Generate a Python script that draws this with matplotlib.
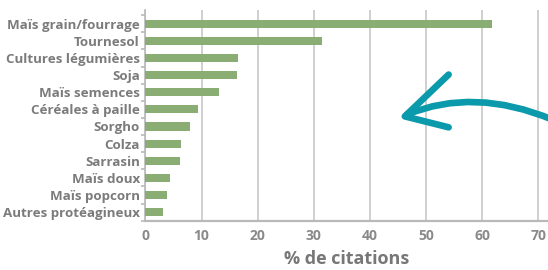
import matplotlib.pyplot as plt
from matplotlib.path import Path
from matplotlib.patches import PathPatch

categories = ['Maïs grain/fourrage', 'Tournesol', 'Cultures légumières', 'Soja',
              'Maïs semences', 'Céréales à paille', 'Sorgho', 'Colza', 'Sarrasin',
              'Maïs doux', 'Maïs popcorn', 'Autres protéagineux']
values = [61.7, 31.4, 16.5, 16.3, 13.1, 9.4, 7.9, 6.3, 6.1, 4.3, 3.8, 3.1]
xticks = [0, 10, 20, 30, 40, 50, 60, 70]

plt.rcParams['font.family'] = ['Open Sans', 'DejaVu Sans']

fig = plt.figure(figsize=(5.48, 2.70), dpi=100)
ax = fig.add_axes([0.2655, 0.1826, 0.7345, 0.7804])

pos = list(range(len(categories)))
ax.barh(pos, values, height=0.47, color='#8aad73', zorder=3)

ax.set_xlim(0, 71.7)
ax.set_ylim(11.45, -0.8)
ax.set_xticks(xticks)
ax.set_yticks(pos)
ax.set_yticklabels(categories)
ax.set_yticks([p + 0.5 for p in range(-1, len(categories))], minor=True)

ax.grid(axis='x', color='#cccccc', linewidth=1.3, zorder=0)
for s in ['top', 'right']:
    ax.spines[s].set_visible(False)
ax.spines['bottom'].set_color('#b9b9b9')
ax.spines['bottom'].set_linewidth(1.6)
ax.spines['left'].set_color('#b9b9b9')
ax.spines['left'].set_linewidth(1.2)

ax.tick_params(axis='y', which='major', length=0, pad=4,
               labelsize=9.6, labelcolor='#7b7b7b')
ax.tick_params(axis='y', which='minor', length=3, color='#b9b9b9', width=1.2)
ax.tick_params(axis='x', length=0, pad=6, labelsize=10, labelcolor='#8a8a8a')
for lbl in ax.get_yticklabels() + ax.get_xticklabels():
    lbl.set_fontweight('bold')

ax.set_xlabel('% de citations', fontsize=13, fontweight='bold', color='#777777',
              labelpad=5)

# curved teal arrow
teal = '#0b9aab'
curve = Path([(46.6, 5.3), (58.5, 3.7), (72.5, 5.6)],
             [Path.MOVETO, Path.CURVE3, Path.CURVE3])
ax.add_patch(PathPatch(curve, facecolor='none', edgecolor=teal, lw=4.8,
                       capstyle='round', clip_on=False, zorder=5))
ax.plot([54.0, 46.2, 54.0], [2.97, 5.41, 6.05], color=teal, lw=4.8,
        solid_capstyle='round', solid_joinstyle='round', clip_on=False, zorder=5)

fig.savefig('out.png', dpi=100)
